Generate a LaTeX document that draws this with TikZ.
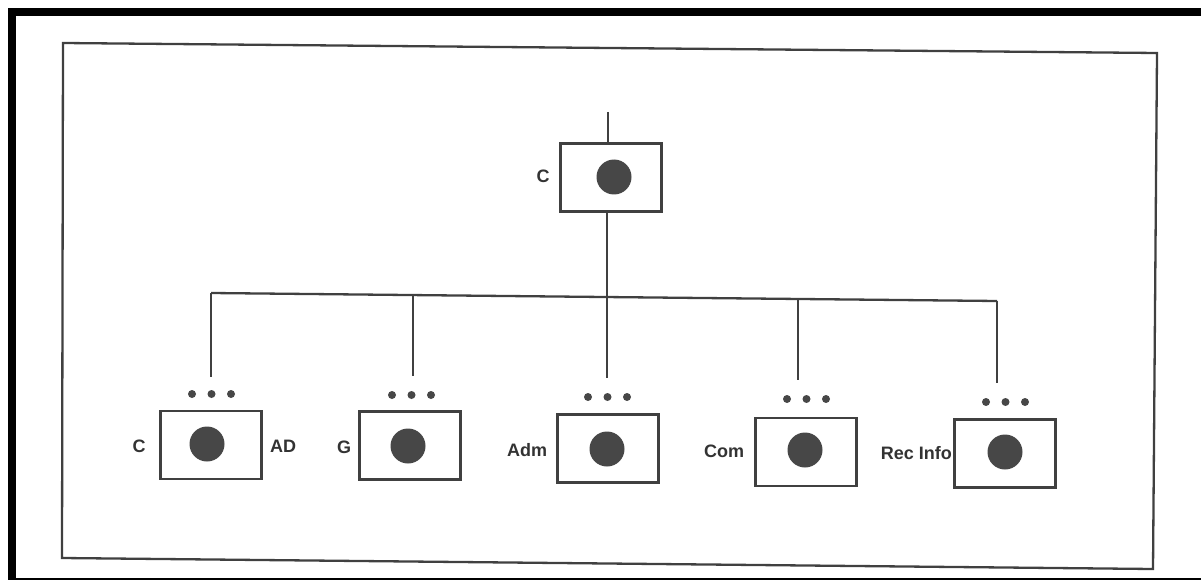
\documentclass[tikz,border=0pt]{standalone}
\usepackage{fontspec}
\setmainfont{Liberation Sans}
\begin{document}
\begin{tikzpicture}[x=1pt,y=-1pt,
  ln/.style={draw=black!75,line width=2.3pt},
  unitbox/.style={draw=black!75,line width=2.3pt,rectangle,minimum width=101pt,minimum height=68pt,inner sep=0pt},
  blob/.style={circle,fill=black!72,minimum size=35pt,inner sep=0pt},
  dotn/.style={circle,fill=black!72,minimum size=8pt,inner sep=0pt},
  lbl/.style={text=black!80,font=\bfseries\fontsize{18}{20}\selectfont,inner sep=0pt}]
\useasboundingbox (0,0) rectangle (1201,580);
\fill[white] (0,0) rectangle (1201,580);
% outer scan frame
\fill[black] (8,8) rectangle (16,580);
\fill[black] (8,8) rectangle (1201,16);
\fill[black] (8,578) rectangle (1201,580);
% inner frame (slightly tilted scan)
\draw[ln] (63,43) -- (1157,53) -- (1153,569) -- (62,558) -- cycle;

% top unit
\node[unitbox] (top) at (611,177.5) {};
\node[blob] (topc) at (614,177) {};
\node[lbl,anchor=center] (topl) at (543,176) {C};
\coordinate (topin) at (608,112);
\draw[ln] (topin) -- (top.north -| topin);

% bar
\coordinate (barL) at (211,293);
\coordinate (barR) at (997,301);
\coordinate (barM) at (607,297);
\draw[ln] (barL) -- (barR);
\draw[ln] (top.south -| barM) -- (barM);

% drop coordinates
\coordinate (d1t) at (211,293);  \coordinate (d1b) at (211,377);
\coordinate (d2t) at (413,295);  \coordinate (d2b) at (413,376);
\coordinate (d3t) at (607,297);  \coordinate (d3b) at (607,378);
\coordinate (d4t) at (798,299);  \coordinate (d4b) at (798,380);
\coordinate (d5t) at (997,301);  \coordinate (d5b) at (997,383);
\foreach \i in {1,...,5} {\draw[ln] (d\i t) -- (d\i b);}

% bottom units
\node[unitbox] (u1) at (211,445) {};
\node[unitbox] (u2) at (410,445.5) {};
\node[unitbox] (u3) at (608,448.5) {};
\node[unitbox] (u4) at (806,452) {};
\node[unitbox] (u5) at (1005,453.5) {};
\node[blob] (c1) at (207,444) {};
\node[blob] (c2) at (408,446) {};
\node[blob] (c3) at (607,449) {};
\node[blob] (c4) at (805,450) {};
\node[blob] (c5) at (1005,452) {};

% dots
\foreach \i/\x/\y in {1/192/394, 2/392/395, 3/588/397, 4/787/399, 5/986/402} {
  \node[dotn] (dot\i a) at (\x,\y) {};
  \node[dotn] (dot\i b) at (\x+19.5,\y) {};
  \node[dotn] (dot\i c) at (\x+39,\y) {};
}

% labels
\node[lbl] (l1) at (139,446) {C};
\node[lbl] (l1r) at (283,446) {AD};
\node[lbl] (l2) at (344,447) {G};
\node[lbl] (l3) at (527,450) {Adm};
\node[lbl] (l4) at (724,451) {Com};
\node[lbl,anchor=east] (l5) at (952,453) {Rec Info};
\end{tikzpicture}
\end{document}
